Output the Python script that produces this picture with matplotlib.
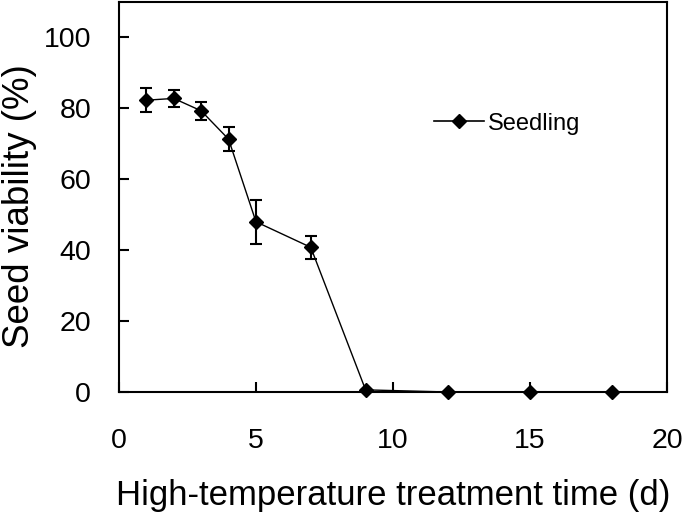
import numpy as np
import matplotlib.pyplot as plt
from matplotlib.lines import Line2D

plt.rcParams['font.family'] = ['Liberation Sans', 'DejaVu Sans']

# Seed viability after high-temperature treatment
days = [1, 2, 3, 4, 5, 7, 9, 12, 15, 18]
viability = [82.3, 82.8, 79.3, 71.3, 48.0, 40.8, 0.6, 0.0, 0.0, 0.0]
errors = [3.4, 2.5, 2.5, 3.4, 6.2, 3.2, 0.0, 0.0, 0.0, 0.0]

x_ticks = [0, 5, 10, 15, 20]
y_ticks = [0, 20, 40, 60, 80, 100]

fig = plt.figure(figsize=(6.85, 5.23), dpi=100)
ax = fig.add_axes([0.1737, 0.2505, 0.80, 0.7457])

ax.errorbar(days, viability, yerr=errors, color='black', marker='D',
            markersize=7.5, linewidth=1.0, elinewidth=1.5, capsize=4.5,
            capthick=1.5, clip_on=False, zorder=3)

ax.set_xlim(0, 20)
ax.set_ylim(0, 110)
ax.set_xticks(x_ticks)
ax.set_yticks(y_ticks)
ax.tick_params(direction='in', length=7, width=1.5, labelsize=20.5)
ax.tick_params(axis='x', pad=26)
ax.tick_params(axis='y', pad=20)
for s in ax.spines.values():
    s.set_linewidth(1.5)

ax.set_xlabel('High-temperature treatment time (d)', fontsize=25, labelpad=18)
ax.set_ylabel('Seed viability (%)', fontsize=26.5)
ax.yaxis.set_label_coords(-0.15, 0.477)

handle = Line2D([], [], color='black', marker='D', markersize=7.5, linewidth=1.2)
ax.legend([handle], ['Seedling'], loc='center left', bbox_to_anchor=(0.536, 0.688),
          frameon=False, fontsize=17, handlelength=2.1, handletextpad=0.2)

fig.savefig('out.png', dpi=100)
